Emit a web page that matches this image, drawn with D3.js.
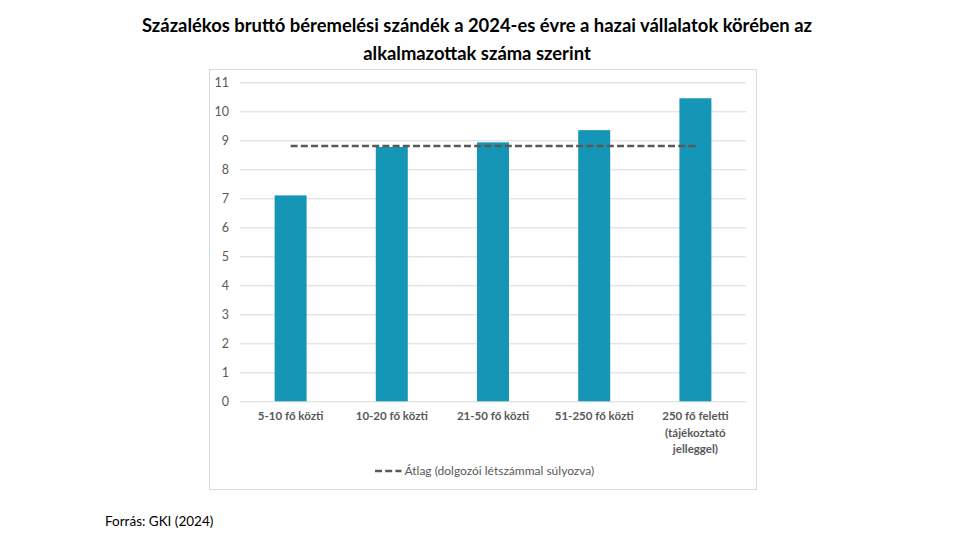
<!DOCTYPE html>
<html>
<head>
<meta charset="utf-8">
<script src="https://cdn.jsdelivr.net/npm/d3@7"></script>
<style>
  body { margin: 0; background: #fff; }
  svg { display: block; }
</style>
</head>
<body>
<svg id="chart" width="954" height="548"></svg>
<script>
// data
const categories = [
  "5-10 fő közti",
  "10-20 fő közti",
  "21-50 fő közti",
  "51-250 fő közti",
  "250 fő feletti (tájékoztató jelleggel)"
];
const values = [7.1, 8.77, 8.93, 9.35, 10.45];
const average = [8.8, 8.8, 8.8, 8.8, 8.8];
const yTicks = [0, 1, 2, 3, 4, 5, 6, 7, 8, 9, 10, 11];
const titleLines = [
  "Százalékos bruttó béremelési szándék a 2024-es évre a hazai vállalatok körében az",
  "alkalmazottak száma szerint"
];
const legendLabel = "Átlag (dolgozói létszámmal súlyozva)";
const sourceText = "Forrás: GKI (2024)";

const font = "Lato, sans-serif";
const svg = d3.select("#chart");

// plot area
const plot = { left: 240, right: 746, top: 82.3, bottom: 401.3 };

const x = d3.scaleBand()
  .domain(categories)
  .range([plot.left, plot.right])
  .paddingInner(0.684)
  .paddingOuter(0.342);

const y = d3.scaleLinear()
  .domain([0, 11])
  .range([plot.bottom, plot.top]);

// title
svg.append("g")
  .selectAll("text")
  .data(titleLines)
  .join("text")
  .attr("x", 477)
  .attr("y", (d, i) => 32 + i * 28)
  .attr("text-anchor", "middle")
  .attr("font-family", font)
  .attr("font-weight", "bold")
  .attr("font-size", 18.4)
  .attr("fill", "#000")
  .text(d => d);

// chart frame
svg.append("rect")
  .attr("x", 209.5)
  .attr("y", 69.5)
  .attr("width", 547)
  .attr("height", 420)
  .attr("fill", "none")
  .attr("stroke", "#d9d9d9");

// gridlines + y labels
const yAxis = d3.axisLeft(y)
  .tickValues(yTicks)
  .tickSize(-(plot.right - plot.left))
  .tickPadding(11);

const gy = svg.append("g")
  .attr("transform", `translate(${plot.left},0)`)
  .call(yAxis);
gy.select(".domain").remove();
gy.selectAll(".tick line").attr("stroke", "#d9d9d9");
gy.selectAll(".tick text")
  .attr("font-family", font)
  .attr("font-size", 12.5)
  .attr("fill", "#595959");

// bars
svg.append("g")
  .selectAll("rect")
  .data(values)
  .join("rect")
  .attr("x", (d, i) => x(categories[i]))
  .attr("y", d => y(d))
  .attr("width", x.bandwidth())
  .attr("height", d => y(0) - y(d))
  .attr("fill", "#1696b6");

// weighted average line
const line = d3.line()
  .x((d, i) => x(categories[i]) + x.bandwidth() / 2)
  .y(d => y(d));

svg.append("path")
  .datum(average)
  .attr("d", line)
  .attr("fill", "none")
  .attr("stroke", "#595959")
  .attr("stroke-width", 2.5)
  .attr("stroke-dasharray", "7,3.2");

// category labels (wrapped to band)
const xAxis = d3.axisBottom(x).tickSize(0).tickPadding(0);
const gx = svg.append("g")
  .attr("transform", `translate(0,${plot.bottom})`)
  .call(xAxis);
gx.select(".domain").remove();
gx.selectAll(".tick text")
  .attr("font-family", font)
  .attr("font-weight", "bold")
  .attr("font-size", 11.5)
  .attr("fill", "#595959")
  .call(wrap, 92);

function wrap(texts, width) {
  texts.each(function() {
    const t = d3.select(this);
    const words = t.text().split(/\s+/);
    t.text(null);
    let lineWords = [];
    let lineNo = 0;
    let tspan = t.append("tspan").attr("x", 0).attr("y", 19);
    words.forEach(w => {
      lineWords.push(w);
      tspan.text(lineWords.join(" "));
      if (tspan.node().getComputedTextLength() > width && lineWords.length > 1) {
        lineWords.pop();
        tspan.text(lineWords.join(" "));
        lineWords = [w];
        lineNo++;
        tspan = t.append("tspan")
          .attr("x", 0)
          .attr("y", 19 + lineNo * 16.6)
          .text(w);
      }
    });
    t.attr("dy", null);
  });
}

// legend
const legend = svg.append("g").attr("transform", "translate(0,471)");
legend.append("line")
  .attr("x1", 375).attr("x2", 401.5)
  .attr("y1", 0).attr("y2", 0)
  .attr("stroke", "#595959")
  .attr("stroke-width", 2.5)
  .attr("stroke-dasharray", "7,3.2");
legend.append("text")
  .attr("x", 404.5)
  .attr("y", 4.3)
  .attr("font-family", font)
  .attr("font-size", 12)
  .attr("fill", "#595959")
  .text(legendLabel);

// source
svg.append("text")
  .attr("x", 105)
  .attr("y", 526)
  .attr("font-family", font)
  .attr("font-size", 13.5)
  .attr("fill", "#000")
  .text(sourceText);
</script>
</body>
</html>
